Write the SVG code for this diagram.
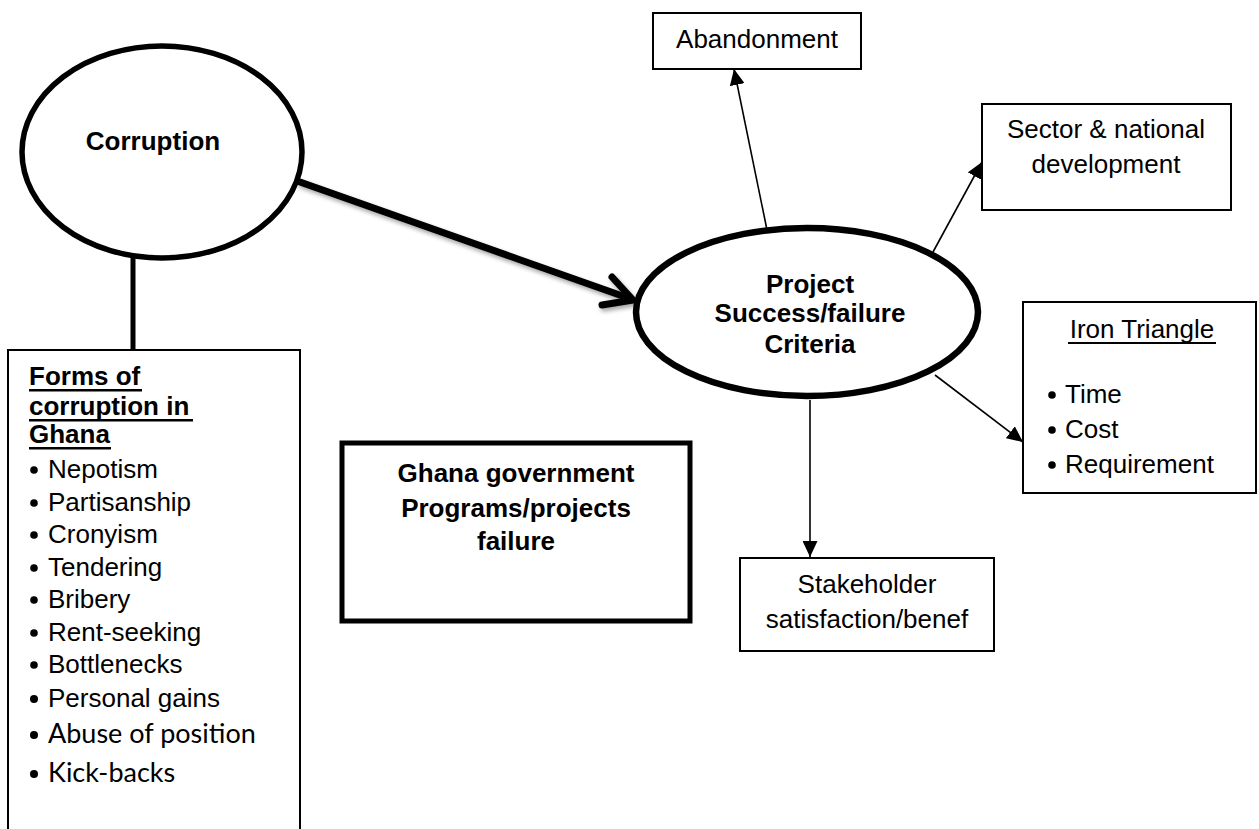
<svg xmlns="http://www.w3.org/2000/svg" width="1259" height="829" viewBox="0 0 1259 829">
<style>
.t{font-family:"Liberation Sans",Arial,sans-serif;font-size:26px;fill:#000}
.b{font-weight:bold}
.c{font-family:Lato,"Liberation Sans",sans-serif;font-size:27px;fill:#000}
.box{fill:#fff;stroke:#000;stroke-width:2}
.thin{stroke:#000;stroke-width:1.6;fill:none}
</style>
<defs>
<marker id="ah" markerUnits="userSpaceOnUse" markerWidth="16" markerHeight="15" refX="16" refY="7.5" orient="auto">
<path d="M0,0 L16,7.5 L0,15 z" fill="#000"/>
</marker>
<filter id="sh" x="-10%" y="-10%" width="120%" height="130%">
<feDropShadow dx="2" dy="3" stdDeviation="2" flood-color="#000" flood-opacity="0.35"/>
</filter>
</defs>
<rect width="1259" height="829" fill="#fff"/>

<g id="connectors">
<line x1="133" y1="258" x2="133" y2="350" stroke="#000" stroke-width="5"/>
<g filter="url(#sh)">
<line x1="300" y1="182" x2="631" y2="299" stroke="#000" stroke-width="7" stroke-linecap="round"/>
<polyline points="612,277 633,300 602,305" fill="none" stroke="#000" stroke-width="7" stroke-linecap="round" stroke-linejoin="round"/>
</g>
<line class="thin" x1="767" y1="230" x2="734" y2="69" marker-end="url(#ah)"/>
<line class="thin" x1="933" y1="252" x2="982" y2="162" marker-end="url(#ah)"/>
<line class="thin" x1="935" y1="375" x2="1023" y2="442" marker-end="url(#ah)"/>
<line class="thin" x1="810" y1="400" x2="810" y2="557" marker-end="url(#ah)"/>
</g>

<g id="corruption">
<ellipse cx="162" cy="152" rx="140" ry="106" fill="#fff" stroke="#000" stroke-width="5.5"/>
<text class="t b" x="153" y="150" text-anchor="middle">Corruption</text>
</g>

<g id="forms">
<rect class="box" x="8" y="350" width="292" height="500"/>
<text class="t b" x="29" y="385">Forms of</text>
<text class="t b" x="29" y="415">corruption in</text>
<text class="t b" x="29" y="443">Ghana</text>
<rect x="29" y="389" width="113" height="2.5" fill="#000"/>
<rect x="29" y="419" width="164" height="2.5" fill="#000"/>
<rect x="29" y="447" width="82" height="2.5" fill="#000"/>
<g fill="#000">
<circle cx="34" cy="470" r="3.8"/>
<circle cx="34" cy="503" r="3.8"/>
<circle cx="34" cy="535" r="3.8"/>
<circle cx="34" cy="568" r="3.8"/>
<circle cx="34" cy="600" r="3.8"/>
<circle cx="34" cy="633" r="3.8"/>
<circle cx="34" cy="665" r="3.8"/>
<circle cx="34" cy="699" r="4"/>
<circle cx="34" cy="735" r="4"/>
<circle cx="34" cy="774" r="4"/>
</g>
<text class="t" x="48" y="478">Nepotism</text>
<text class="t" x="48" y="511">Partisanship</text>
<text class="t" x="48" y="543">Cronyism</text>
<text class="t" x="48" y="576">Tendering</text>
<text class="t" x="48" y="608">Bribery</text>
<text class="t" x="48" y="641">Rent-seeking</text>
<text class="t" x="48" y="673">Bottlenecks</text>
<text class="t" x="48" y="707">Personal gains</text>
<text class="c" x="48" y="743">Abuse of position</text>
<text class="c" x="48" y="782">Kick-backs</text>
</g>

<g id="ghana-govt">
<rect x="342" y="443" width="348" height="178" fill="#fff" stroke="#000" stroke-width="5"/>
<text class="t b" x="516" y="482" text-anchor="middle">Ghana government</text>
<text class="t b" x="516" y="517" text-anchor="middle">Programs/projects</text>
<text class="t b" x="516" y="550" text-anchor="middle">failure</text>
</g>

<g id="project">
<ellipse cx="807" cy="312" rx="171" ry="84" fill="#fff" stroke="#000" stroke-width="6.5"/>
<text class="t b" x="810" y="293" text-anchor="middle">Project</text>
<text class="t b" x="810" y="322" text-anchor="middle">Success/failure</text>
<text class="t b" x="810" y="353" text-anchor="middle">Criteria</text>
</g>

<g id="abandonment">
<rect class="box" x="653" y="13" width="208" height="56"/>
<text class="t" x="757" y="48" text-anchor="middle">Abandonment</text>
</g>

<g id="sector">
<rect class="box" x="982" y="104" width="249" height="106"/>
<text class="t" x="1106" y="138" text-anchor="middle">Sector &amp; national</text>
<text class="t" x="1106" y="173" text-anchor="middle">development</text>
</g>

<g id="iron-triangle">
<rect class="box" x="1023" y="302" width="233" height="191"/>
<text class="t" x="1142" y="338" text-anchor="middle">Iron Triangle</text>
<rect x="1068" y="342" width="148" height="2" fill="#000"/>
<circle cx="1052" cy="395" r="3.8" fill="#000"/>
<circle cx="1052" cy="430" r="3.8" fill="#000"/>
<circle cx="1052" cy="465" r="3.8" fill="#000"/>
<text class="t" x="1065" y="403">Time</text>
<text class="t" x="1065" y="438">Cost</text>
<text class="t" x="1065" y="473">Requirement</text>
</g>

<g id="stakeholder">
<rect class="box" x="740" y="558" width="254" height="93"/>
<text class="t" x="867" y="593" text-anchor="middle">Stakeholder</text>
<text class="t" x="867" y="628" text-anchor="middle">satisfaction/benef</text>
</g>
</svg>
